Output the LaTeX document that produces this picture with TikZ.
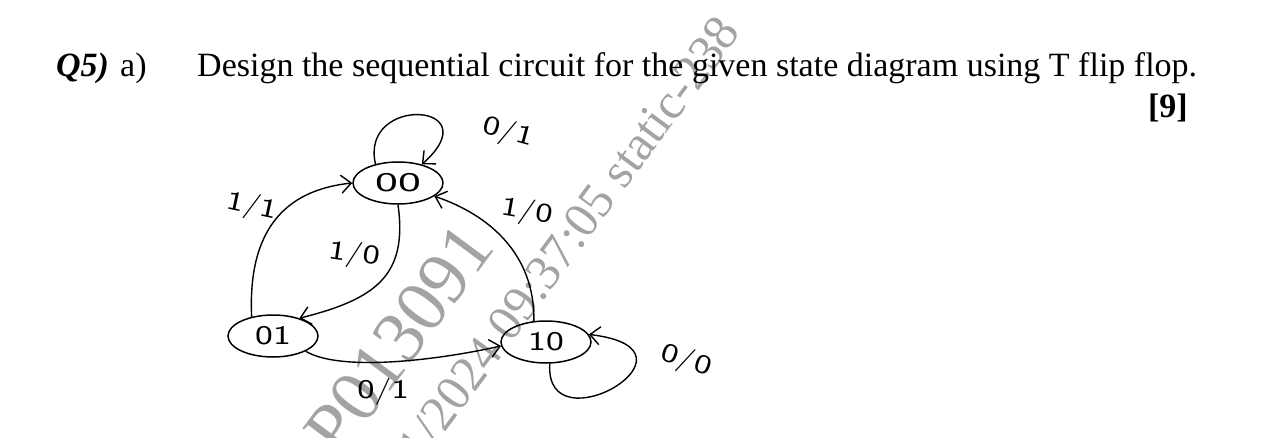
\documentclass[tikz,border=0pt]{standalone}
\usepackage{fontspec}
\setmainfont{Liberation Serif}
\usetikzlibrary{arrows.meta,shapes.geometric}
\definecolor{wmgray}{HTML}{A3A3A3}
\newcommand{\hw}[1]{\scalebox{1.35}[1]{#1}}
\tikzset{
  stt/.style={draw, ellipse, line width=1.5pt, inner sep=0pt, minimum width=90pt, minimum height=42pt, font=\sffamily\fontsize{27}{27}\selectfont},
  trans/.style={-{Straight Barb[length=10pt,width=18pt,line width=1.4pt]}, line width=1.4pt},
  lbl/.style={font=\sffamily\fontsize{27}{27}\selectfont, inner sep=0pt},
  qtext/.style={anchor=base west, inner sep=0pt, font=\fontsize{34}{40}\selectfont},
  wmark/.style={text=wmgray, inner sep=0pt, rotate=53.5}
}
\begin{document}
\begin{tikzpicture}[x=1pt,y=1pt]
  \useasboundingbox (0,0) rectangle (1271,-438);
  \clip (0,0) rectangle (1271,-438);
  \node[wmark, font=\fontsize{74}{74}\selectfont] (wm1) at (399,-339) {P013091};
  \node[wmark, font=\fontsize{50}{50}\selectfont] (wm2) at (561,-249) {01/2024 09:37:05 static-238};
  \node[qtext] (qno) at (56,-77) {\textbf{\textit{Q5)}}};
  \node[qtext] (qpart) at (120,-77) {a)};
  \node[qtext] (qtxt) at (197,-77) {Design the sequential circuit for the given state diagram using T flip flop.};
  \node[qtext, anchor=base east] (marks) at (1188,-118) {\textbf{[9]}};
  \node[stt] (s00) at (398,-183) {\scalebox{1.8}[1]{00}};
  \node[stt] (s01) at (273,-336) {\scalebox{1.4}[1]{01}};
  \node[stt] (s10) at (546,-342) {\scalebox{1.4}[1]{10}};
  \draw[trans] (s00.140) .. controls +(-16,70) and +(70,62) .. (s00.38);
  \draw[trans] (s10.-80) .. controls +(-6,-86) and +(127,-15) .. (s10.10);
  \draw[trans] (s01.138) .. controls +(-4,87) and +(-67,-7) .. (s00.180);
  \draw[trans] (s00.-90) .. controls +(10,-71) and +(76,19) .. (s01.34);
  \draw[trans] (s10.120) .. controls +(1,66) and +(56,-19) .. (s00.-20);
  \draw[trans] (s01.-25) .. controls +(35,-21) and +(-62,-14) .. (s10.185);
  \node[lbl, rotate=-15] (lself00) at (508,-133) {\hw{0/1}};
  \node[lbl, rotate=-12] (lout01) at (252,-207) {\hw{1/1}};
  \node[lbl, rotate=-8] (lin00) at (354,-255) {\hw{1/0}};
  \node[lbl, rotate=-10] (lout10) at (527,-212) {\hw{1/0}};
  \node[lbl] (lbot01) at (383,-392) {\hw{0/1}};
  \node[lbl, rotate=-18] (lself10) at (686,-361) {\hw{0/0}};
\end{tikzpicture}
\end{document}
